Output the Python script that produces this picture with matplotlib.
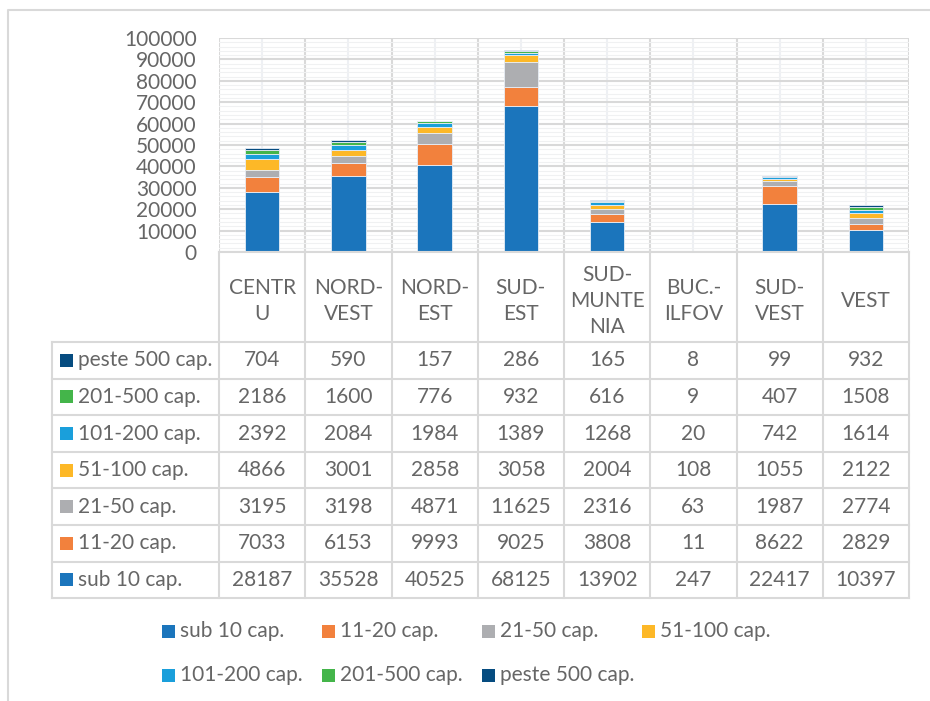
import matplotlib
matplotlib.use("Agg")
import matplotlib.pyplot as plt
from matplotlib.patches import Rectangle
import numpy as np

plt.rcParams['font.family'] = ['Lato', 'DejaVu Sans']

# regions (header labels as written in the table)
regions = ["CENTR\nU", "NORD-\nVEST", "NORD-\nEST", "SUD-\nEST",
           "SUD-\nMUNTE\nNIA", "BUC.-\nILFOV", "SUD-\nVEST", "VEST"]

series_names = ["sub 10 cap.", "11-20 cap.", "21-50 cap.", "51-100 cap.",
                "101-200 cap.", "201-500 cap.", "peste 500 cap."]

sub10 = [28187, 35528, 40525, 68125, 13902, 247, 22417, 10397]
c11_20 = [7033, 6153, 9993, 9025, 3808, 11, 8622, 2829]
c21_50 = [3195, 3198, 4871, 11625, 2316, 63, 1987, 2774]
c51_100 = [4866, 3001, 2858, 3058, 2004, 108, 1055, 2122]
c101_200 = [2392, 2084, 1984, 1389, 1268, 20, 742, 1614]
c201_500 = [2186, 1600, 776, 932, 616, 9, 407, 1508]
peste500 = [704, 590, 157, 286, 165, 8, 99, 932]

series = [sub10, c11_20, c21_50, c51_100, c101_200, c201_500, peste500]
colors = ["#1B75BC", "#F2813D", "#ADAEB1", "#FDB827",
          "#1A9FDB", "#44B54A", "#064C80"]

yticks = np.arange(0, 100001, 10000)

W, H = 930, 701
txt_col = "#666666"
grid_col = "#D9D9D9"
fs = 15

fig = plt.figure(figsize=(W / 100, H / 100), dpi=100)

# plot area in pixels
px_l, px_r, px_t, px_b = 219, 909, 38, 252
ax = fig.add_axes([px_l / W, 1 - px_b / H, (px_r - px_l) / W, (px_b - px_t) / H])

x = np.arange(len(regions))
bottom = np.zeros(len(regions))
for vals, col in zip(series, colors):
    ax.bar(x, vals, width=0.4, bottom=bottom, color=col,
           edgecolor="#E8EEF6", linewidth=0.6, zorder=3)
    bottom += np.array(vals)

ax.set_xlim(-0.5, len(regions) - 0.5)
ax.set_ylim(0, 100000)
ax.set_yticks(yticks)
ax.set_yticklabels([str(v) for v in yticks], fontsize=fs, color=txt_col)
ax.set_yticks(np.arange(0, 100001, 2000), minor=True)
ax.set_xticks(np.arange(-0.5, len(regions), 1.0))
ax.set_xticks(x, minor=True)
ax.tick_params(axis="both", which="both", length=0)
ax.tick_params(axis="y", pad=16)
ax.set_xticklabels([])
ax.grid(True, which="major", color=grid_col, linewidth=1.5, zorder=1)
ax.grid(True, which="minor", axis="y", color="#F0F1F2", linewidth=0.8, zorder=0)
ax.grid(True, which="minor", axis="x", color="#EEF0F4", linewidth=1.5, zorder=0)
for s in ax.spines.values():
    s.set_visible(False)

# overlay in pixel coordinates for table, legend and frame
ov = fig.add_axes([0, 0, 1, 1], zorder=5)
ov.set_xlim(0, W)
ov.set_ylim(H, 0)
ov.axis("off")
ov.patch.set_alpha(0)

# chart frame
ov.plot([8, 8, W + 5], [H + 5, 10, 10], color=grid_col, lw=1.5)

col_w = (px_r - px_l) / len(regions)
hdr_bot = 342
row_h = 36.6
n_rows = len(series)
tbl_bot = hdr_bot + row_h * n_rows
tbl_left = 52

# vertical lines of the table
for k in range(len(regions) + 1):
    xx = px_l + k * col_w
    ov.plot([xx, xx], [px_b, tbl_bot], color=grid_col, lw=1.5)
ov.plot([tbl_left, tbl_left], [hdr_bot, tbl_bot], color=grid_col, lw=1.5)
# horizontal lines
ov.plot([px_l, px_r], [px_b, px_b], color=grid_col, lw=1.5)
for r in range(n_rows + 1):
    yy = hdr_bot + r * row_h
    ov.plot([tbl_left, px_r], [yy, yy], color=grid_col, lw=1.5)

# header labels
for k, name in enumerate(regions):
    ov.text(px_l + (k + 0.5) * col_w, (px_b + hdr_bot) / 2 + 4, name,
            ha="center", va="center", fontsize=fs, color=txt_col,
            linespacing=1.4)

# rows: top is last series
for r in range(n_rows):
    idx = n_rows - 1 - r
    yc = hdr_bot + (r + 0.5) * row_h
    ov.add_patch(Rectangle((60, yc - 6.5), 13, 13, color=colors[idx], lw=0))
    ov.text(78, yc, series_names[idx], ha="left", va="center",
            fontsize=fs, color=txt_col)
    for k, v in enumerate(series[idx]):
        ov.text(px_l + (k + 0.5) * col_w, yc, str(v), ha="center",
                va="center", fontsize=fs, color=txt_col)

# legend (row-major, 4 per row)
for i, (name, col) in enumerate(zip(series_names, colors)):
    lx = 162 + 160 * (i % 4)
    ly = 631 + 44 * (i // 4)
    ov.add_patch(Rectangle((lx, ly - 6.5), 13, 13, color=col, lw=0))
    ov.text(lx + 18, ly, name, ha="left", va="center", fontsize=fs,
            color=txt_col)

fig.savefig("out.png", dpi=100)
